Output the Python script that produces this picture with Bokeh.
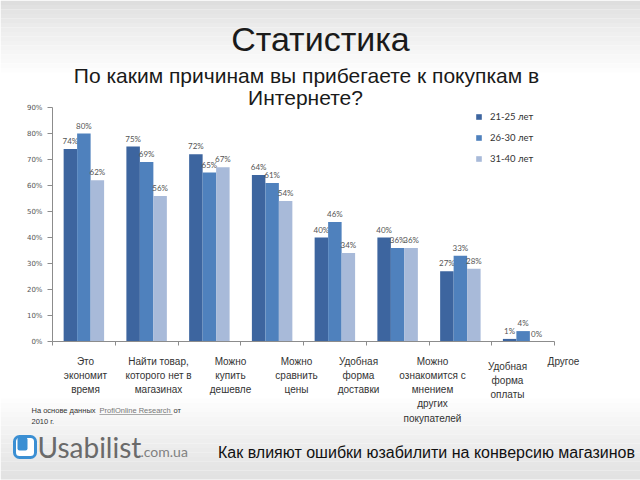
import numpy as np
from bokeh.plotting import figure
from bokeh.models import (Label, FixedTicker, PrintfTickFormatter,
                          Legend, LegendItem, ColumnDataSource, Range1d)
from bokeh.core.properties import value
from bokeh.embed import file_html
from bokeh.resources import INLINE

# ---------------- data ----------------
categories = ["Это\nэкономит\nвремя",
              "Найти товар,\nкоторого нет в\nмагазинах",
              "Можно\nкупить\nдешевле",
              "Можно\nсравнить\nцены",
              "Удобная\nформа\nдоставки",
              "Можно\nознакомится с\nмнением\nдругих\nпокупателей",
              "Удобная\nформа\nоплаты",
              "Другое"]
series_names = ["21-25 лет", "26-30 лет", "31-40 лет"]
age_21_25 = [74, 75, 72, 64, 40, 40, 27, 1]
age_26_30 = [80, 69, 65, 61, 46, 36, 33, 4]
age_31_40 = [62, 56, 67, 54, 34, 36, 28, 0]
y_ticks = [0, 10, 20, 30, 40, 50, 60, 70, 80, 90]

colors = ["#3d659f", "#4f81bd", "#a8bad9"]

# ---------------- page geometry (pixels, top-left origin) ----------------
W, H = 640, 480
PX_L, PX_R = 52, 554        # chart area left/right
PX_T, PX_B = 107, 341       # chart area top (90%) / bottom (0%)
YMAX = 90
NCAT = len(categories)

ux = (PX_R - PX_L) / NCAT
uy = (PX_B - PX_T) / YMAX
x_range = Range1d(-PX_L / ux, (W - PX_L) / ux)
y_range = Range1d(-(H - PX_B) / uy, YMAX + PX_T / uy)

p = figure(width=W, height=H, output_backend="svg", toolbar_location=None,
           x_range=x_range, y_range=y_range, min_border=0,
           outline_line_color=None)
p.extra_x_ranges = {"px": Range1d(0, W)}
p.extra_y_ranges = {"px": Range1d(H, 0)}
p.background_fill_color = "white"
p.border_fill_color = "white"
p.grid.visible = False

# slide background gradients (top and bottom)
steps = 16
for i in range(steps):
    g = int(222 + (255 - 222) * (i / steps) ** 0.8)
    p.quad(left=0, right=W, top=i * 4.5, bottom=i * 4.5 + 4.6,
           fill_color="#%02x%02x%02x" % (g, g, g), line_color=None,
           x_range_name="px", y_range_name="px", level="underlay")
steps = 18
for i in range(steps):
    g = int(255 - (255 - 226) * ((i + 1) / steps))
    y0 = 398 + i * 4.5
    p.quad(left=0, right=W, top=y0, bottom=y0 + 4.6,
           fill_color="#%02x%02x%02x" % (g, g, g), line_color=None,
           x_range_name="px", y_range_name="px", level="underlay")

# ---------------- bars ----------------
idx = np.arange(NCAT) + 0.5
bw = 0.215
offsets = [-bw, 0.0, bw]
renderers = []
for vals, off, col in zip([age_21_25, age_26_30, age_31_40], offsets, colors):
    src = ColumnDataSource(dict(x=idx + off, top=vals, lab=["%d%%" % v for v in vals]))
    r = p.vbar(x="x", top="top", bottom=0, width=bw, source=src,
               fill_color=col, line_color=None)
    renderers.append(r)
    p.text(x="x", y="top", text="lab", source=src, text_align="center",
           text_baseline="bottom", y_offset=-3, text_font_size="8px",
           text_color="#555555", text_font=value("Lato"))

# ---------------- axes (real axes, pinned at the chart origin) ----------------
p.yaxis.fixed_location = 0
p.yaxis.bounds = (0, YMAX)
p.yaxis.ticker = FixedTicker(ticks=y_ticks)
p.yaxis.formatter = PrintfTickFormatter(format="%d%%")
p.yaxis.major_label_text_font_size = "7px"
p.yaxis.major_label_text_color = "#555555"
p.yaxis.major_label_text_font = "DejaVu Sans"
p.yaxis.axis_line_color = "#8c8c8c"
p.yaxis.major_tick_line_color = "#8c8c8c"
p.yaxis.major_tick_in = 0
p.yaxis.major_tick_out = 5
p.yaxis.minor_tick_line_color = None
p.yaxis.major_label_standoff = 5

p.xaxis.fixed_location = 0
p.xaxis.bounds = (0, NCAT)
p.xaxis.ticker = FixedTicker(ticks=list(range(NCAT + 1)))
p.xaxis.major_label_text_color = None
p.xaxis.major_label_text_font_size = "1px"
p.xaxis.axis_line_color = "#8c8c8c"
p.xaxis.major_tick_line_color = "#8c8c8c"
p.xaxis.major_tick_in = 0
p.xaxis.major_tick_out = 4
p.xaxis.minor_tick_line_color = None

# legend
legend = Legend(items=[LegendItem(label=n, renderers=[r]) for n, r in zip(series_names, renderers)],
                location=(475, H - 165), orientation="vertical",
                glyph_width=7, glyph_height=7, label_height=14, spacing=7,
                label_standoff=8, padding=0, margin=0,
                border_line_color=None, background_fill_alpha=0,
                label_text_font="Lato", label_text_font_size="9.5px",
                label_text_color="#333333")
p.add_layout(legend, "center")


# ---------------- texts ----------------
def lab(text, x, y, size, color="#222222", font="Liberation Sans", align="left",
        baseline="middle", lh=1.2):
    p.add_layout(Label(x=x, y=y, x_range_name="px", y_range_name="px",
                       text=text, text_font=font, text_font_size=size,
                       text_color=color, text_align=align, text_baseline=baseline,
                       text_line_height=lh))


lab("Статистика", 320, 38, "34px", color="#1a1a1a", align="center")
lab("По каким причинам вы прибегаете к покупкам в", 306, 75, "21px",
    color="#1a1a1a", align="center")
lab("Интернете?", 305, 97, "21px", color="#1a1a1a", align="center")

cat_x = [85, 158, 230, 296, 358, 432, 507, 563]
cat_y = [355, 355, 355, 355, 355, 355, 360, 355]
for c, cx, cy in zip(categories, cat_x, cat_y):
    lab(c, cx, cy, "10px", color="#333333", align="center", baseline="top", lh=1.3)

# footnote
lab("На основе данных", 31, 410, "7.5px", color="#333333")
lab("ProfiOnline Research", 99, 410, "7.5px", color="#777777")
p.segment(x0=99, x1=172, y0=414, y1=414, line_color="#888888", line_width=0.7,
          x_range_name="px", y_range_name="px")
lab("от", 173, 410, "7.5px", color="#333333")
lab("2010 г.", 31, 421, "7.5px", color="#333333")

# logo
p.quad(left=14, right=35, top=436, bottom=457, fill_color="white",
       line_color="#3b8fd3", line_width=3, border_radius=5,
       x_range_name="px", y_range_name="px")
p.quad(left=17, right=27, top=437, bottom=450, fill_color="#3b8fd3", line_color=None,
       border_radius=2, x_range_name="px", y_range_name="px")
lab("Usabilist", 37, 446, "28px", color="#6a6a6a", font="Lato")
lab(".com.ua", 140, 451, "14px", color="#808080", font="Lato")

lab("Как влияют ошибки юзабилити на конверсию магазинов", 426, 452, "16px",
    color="#111111", align="center")

open("out.html", "w").write(file_html(p, INLINE))
